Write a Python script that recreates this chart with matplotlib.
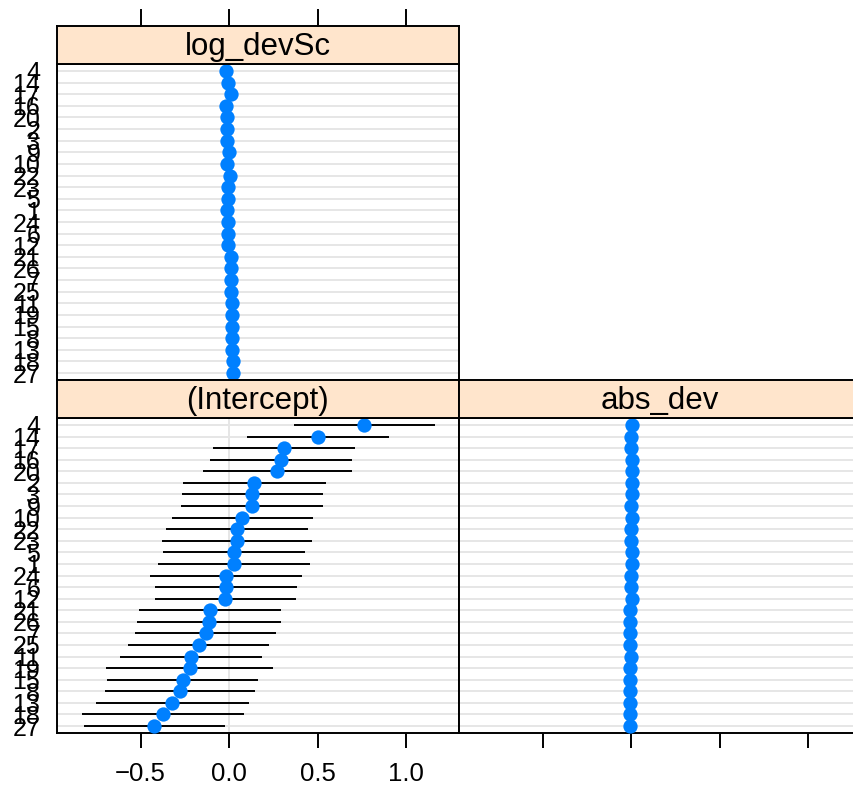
import matplotlib
matplotlib.use("Agg")
import matplotlib.pyplot as plt

# group levels, top to bottom (sorted by intercept)
groups = ["4", "14", "17", "16", "20", "2", "3", "9", "10", "22", "23", "5", "1", "24",
          "6", "12", "21", "26", "7", "25", "11", "19", "15", "8", "13", "18", "27"]

intercept = [0.764, 0.504, 0.311, 0.292, 0.270, 0.142, 0.131, 0.127, 0.075, 0.045, 0.043,
             0.028, 0.028, -0.017, -0.017, -0.021, -0.109, -0.112, -0.131, -0.170, -0.215,
             -0.223, -0.262, -0.275, -0.322, -0.375, -0.423]
intercept_lo = [0.365, 0.099, -0.088, -0.110, -0.150, -0.258, -0.266, -0.272, -0.322, -0.358,
                -0.378, -0.373, -0.403, -0.444, -0.419, -0.419, -0.507, -0.519, -0.532, -0.569,
                -0.618, -0.695, -0.689, -0.699, -0.753, -0.831, -0.822]
intercept_hi = [1.163, 0.904, 0.713, 0.693, 0.693, 0.545, 0.530, 0.528, 0.476, 0.448, 0.466,
                0.427, 0.457, 0.414, 0.384, 0.378, 0.294, 0.294, 0.268, 0.228, 0.187, 0.247,
                0.163, 0.148, 0.112, 0.084, -0.024]

log_devsc = [-0.019, -0.007, 0.009, -0.017, -0.011, -0.009, -0.009, 0.002, -0.009, 0.004,
             -0.004, -0.007, -0.009, -0.006, -0.004, -0.006, 0.009, 0.011, 0.011, 0.011,
             0.019, 0.019, 0.015, 0.017, 0.017, 0.021, 0.024]

abs_dev = [0.007, 0.0, 0.0, 0.007, 0.004, 0.007, 0.004, 0.0, 0.004, 0.0, 0.0, 0.004, 0.004,
           0.0, 0.0, 0.004, -0.004, -0.004, -0.004, -0.004, 0.0, -0.004, -0.004, -0.004,
           -0.004, -0.007, -0.007]

xticks = [-0.5, 0.0, 0.5, 1.0]
xtick_labels = ["\u22120.5", "0.0", "0.5", "1.0"]

plt.rcParams['font.family'] = ['Liberation Sans', 'DejaVu Sans']

W, H = 854, 791
fig = plt.figure(figsize=(W / 100, H / 100), dpi=100)

DOT = '#0080FF'
STRIP = '#FFE5CC'
GRID = '#E6E6E6'
n = len(groups)
ypos = [n - i for i in range(n)]


def px_axes(x0, y0, x1, y1):
    return fig.add_axes([x0 / W, 1 - y1 / H, (x1 - x0) / W, (y1 - y0) / H])


def panel(x0, y0, x1, y1, title, values, lo=None, hi=None, ylabels=False):
    ax = px_axes(x0, y0, x1, y1)
    ax.set_xlim(-0.972, 1.299)
    ax.set_ylim(0.4, n + 0.6)
    for y in ypos:
        ax.axhline(y, color=GRID, lw=1.4, zorder=0)
    ax.axvline(0, color=GRID, lw=1.4, zorder=0)
    if lo is not None:
        ax.hlines(ypos, lo, hi, color='black', lw=1.4, zorder=2)
    ax.plot(values, ypos, 'o', color=DOT, ms=10.3, mec='none', zorder=3)
    for s in ax.spines.values():
        s.set_linewidth(1.4)
    if ylabels:
        ax.set_yticks(ypos)
        ax.set_yticklabels(groups, fontsize=18)
        ax.tick_params(axis='y', length=0, pad=12)
    else:
        ax.set_yticks([])
    ax.set_xticks(xticks)
    ax.tick_params(axis='x', direction='out', length=11, width=1.4, labelsize=18.5, pad=10)

    # strip on top
    sx = px_axes(x0, y0 - 38, x1, y0)
    sx.set_facecolor(STRIP)
    sx.set_xticks([])
    sx.set_yticks([])
    for s in sx.spines.values():
        s.set_linewidth(1.4)
    sx.text(0.5, 0.45, title, ha='center', va='center', fontsize=22.5, transform=sx.transAxes)
    return ax


# top-left panel
ax_top = panel(57, 64, 459, 380, "log_devSc", log_devsc, ylabels=True)
ax_top.set_xticklabels([])
ax_top.tick_params(axis='x', length=0)
# top tick marks sit above the strip
tick_ax = px_axes(57, 10, 459, 26)
tick_ax.set_xlim(-0.972, 1.299)
tick_ax.set_ylim(0, 1)
tick_ax.axis('off')
for t in xticks:
    tick_ax.plot([t, t], [0, 1], color='black', lw=1.4, clip_on=False)

# bottom-left panel
ax_int = panel(57, 418, 459, 733, "(Intercept)", intercept, intercept_lo, intercept_hi,
               ylabels=True)
ax_int.set_xticklabels(xtick_labels)

# bottom-right panel
ax_abs = panel(459, 418, 861, 733, "abs_dev", abs_dev)
ax_abs.set_xticklabels([])

fig.savefig("out.png", dpi=100)
